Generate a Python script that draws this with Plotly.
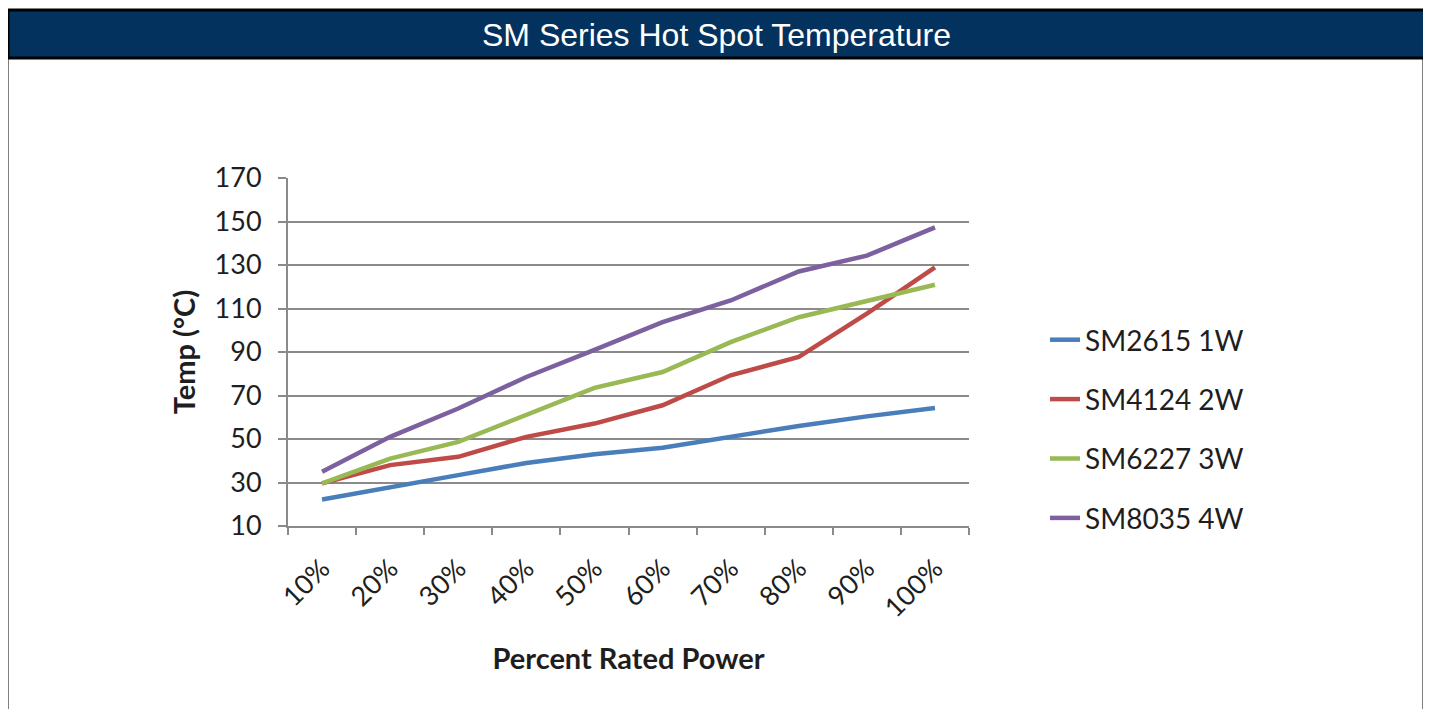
import plotly.graph_objects as go

categories = ["10%", "20%", "30%", "40%", "50%", "60%", "70%", "80%", "90%", "100%"]
sm2615_1w = [22.2, 28.0, 33.4, 39.0, 43.0, 46.0, 51.0, 56.0, 60.4, 64.3]
sm4124_2w = [29.6, 38.0, 41.8, 51.0, 57.1, 65.5, 79.3, 87.7, 107.6, 128.9]
sm6227_3w = [29.6, 41.0, 48.7, 61.0, 73.5, 80.8, 94.5, 106.0, 113.7, 120.9]
sm8035_4w = [34.9, 51.0, 64.0, 78.5, 91.0, 103.7, 113.7, 127.0, 134.3, 147.3]
series_names = ["SM2615 1W", "SM4124 2W", "SM6227 3W", "SM8035 4W"]
series_colors = ["#4A7EBB", "#BE4B48", "#98B954", "#7D60A0"]
y_ticks = [10, 30, 50, 70, 90, 110, 130, 150, 170]

# page has an 8px body margin; work in screenshot pixels and shift
OFF = 8
W, H = 1415, 701
L, R, T, B = 288 - OFF, 969 - OFF, 178 - OFF, 526 - OFF


def px(x):
    return (x - OFF - L) / (R - L)


def py(y):
    return (B - (y - OFF)) / (B - T)


fig = go.Figure()
for i, (name, vals) in enumerate(zip(series_names, [sm2615_1w, sm4124_2w, sm6227_3w, sm8035_4w])):
    fig.add_trace(go.Scatter(
        x=categories, y=vals, name=name, mode="lines",
        line=dict(color=series_colors[i], width=4.5),
        legendgroup=f"g{i}",
    ))

grid = "#8a8a8a"
FONT = "Lato, Open Sans, sans-serif"
tickfont = dict(family=FONT, size=27, color="#1e1e1e")

fig.update_layout(
    width=W, height=H, autosize=False,
    margin=dict(l=L, r=W - R, t=T, b=H - B, pad=0),
    paper_bgcolor="white", plot_bgcolor="white",
    showlegend=True,
    legend=dict(
        x=px(1045), y=py(315), xanchor="left", yanchor="top",
        font=dict(family=FONT, size=28, color="#1e1e1e"),
        tracegroupgap=20, itemwidth=30, bgcolor="rgba(0,0,0,0)",
    ),
    xaxis=dict(
        type="category", range=[-0.5, 9.5], tickson="boundaries",
        ticks="outside", ticklen=7, tickwidth=2, tickcolor=grid,
        showline=True, linecolor=grid, linewidth=2, showgrid=False,
        tickangle=-45, tickfont=tickfont, ticklabelstandoff=14,
        title=dict(text="<b>Percent Rated Power</b>", standoff=26,
                   font=dict(family=FONT, size=29, color="#1e1e1e")),
        automargin=False,
    ),
    yaxis=dict(
        range=[10, 170], tickvals=y_ticks,
        ticks="outside", ticklen=8, tickwidth=2, tickcolor=grid,
        showline=True, linecolor=grid, linewidth=2,
        showgrid=True, gridcolor=grid, gridwidth=2, zeroline=False,
        tickfont=tickfont, ticklabelstandoff=11,
        title=dict(text="<b>Temp (°C)</b>", standoff=10,
                   font=dict(family=FONT, size=29, color="#1e1e1e")),
        automargin=False,
    ),
    shapes=[
        # outer panel side borders
        dict(type="rect", xref="paper", yref="paper",
             x0=px(8), x1=px(1423), y0=py(760), y1=py(58),
             line=dict(color="#808080", width=2), fillcolor="rgba(0,0,0,0)", layer="below"),
        # title bar
        dict(type="rect", xref="paper", yref="paper",
             x0=px(8), x1=px(1425), y0=py(58), y1=py(10),
             line=dict(color="#000000", width=3), fillcolor="#03325F", layer="above"),
    ],
    annotations=[
        dict(text="SM Series Hot Spot Temperature", xref="paper", yref="paper",
             x=px(716), y=py(35), xanchor="center", yanchor="middle", showarrow=False,
             font=dict(family="Liberation Sans, Arial, sans-serif", size=32, color="white")),
    ],
)

fig.write_html("out.html")
